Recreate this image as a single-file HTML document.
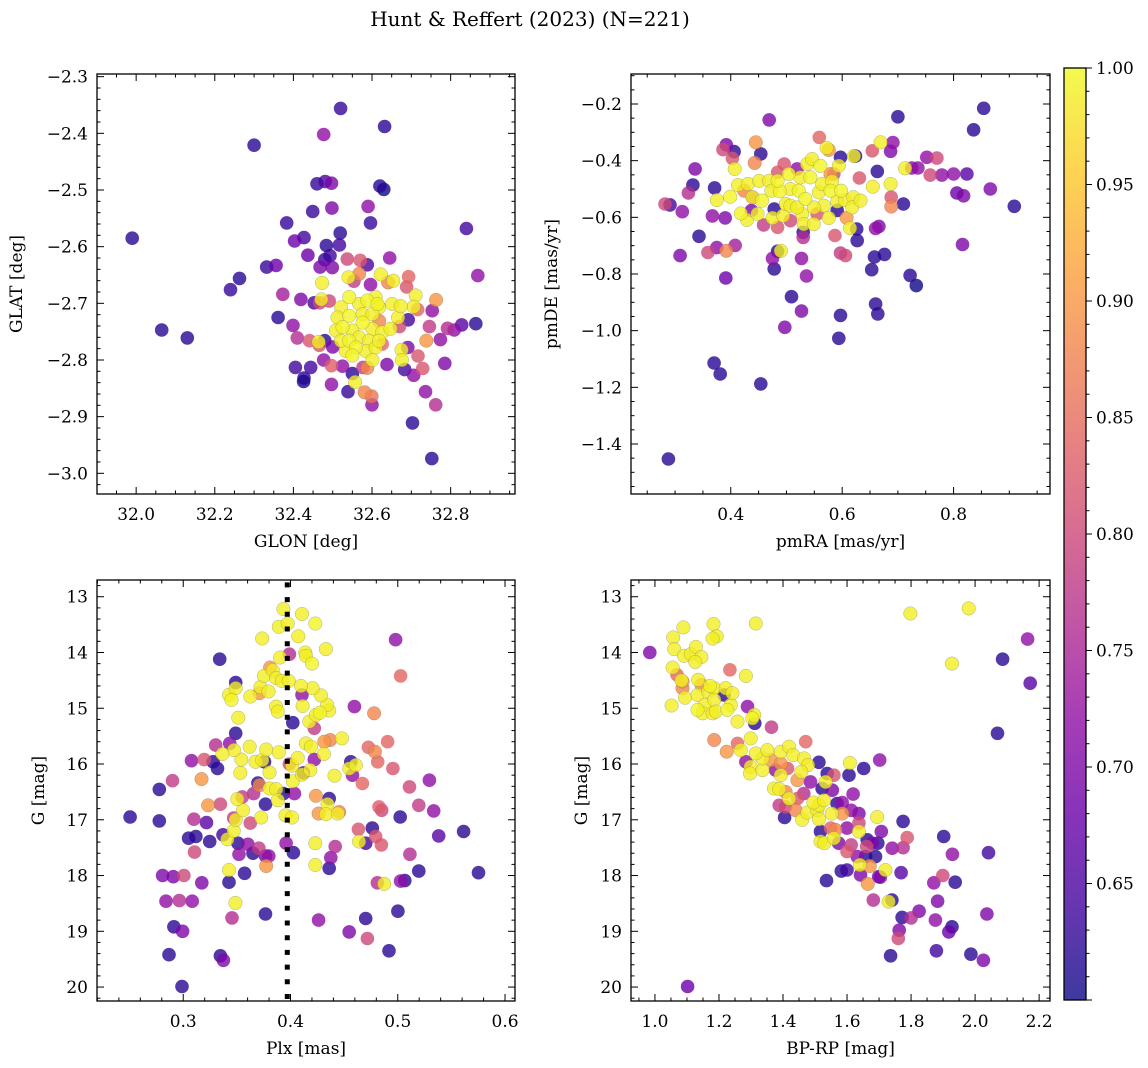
<!DOCTYPE html>
<html><head><meta charset="utf-8">
<style>
html,body{margin:0;padding:0;background:#fff;}
svg{display:block;font-family:"DejaVu Serif","Liberation Serif",serif;}
</style></head>
<body>
<svg id="fig" width="1148" height="1068" viewBox="0 0 1148 1068" xmlns="http://www.w3.org/2000/svg">
<defs>
<linearGradient id="plasma" x1="0" y1="1" x2="0" y2="0">
<stop offset="0" stop-color="#0d0887"/><stop offset="0.1" stop-color="#41049d"/><stop offset="0.2" stop-color="#6a00a8"/><stop offset="0.3" stop-color="#8f0da4"/><stop offset="0.4" stop-color="#b12a90"/><stop offset="0.5" stop-color="#cc4778"/><stop offset="0.6" stop-color="#e16462"/><stop offset="0.7" stop-color="#f2844b"/><stop offset="0.8" stop-color="#fca636"/><stop offset="0.9" stop-color="#fcce25"/><stop offset="1" stop-color="#f0f921"/>
</linearGradient>
</defs>
<text x="530" y="26" font-size="20" text-anchor="middle">Hunt &amp; Reffert (2023) (N=221)</text>
</svg>
<script>
// ---- data: panel 1 (GLON vs GLAT)
const p1Glon=[31.99,32.065,32.13,32.30,32.24,32.263,32.52,32.632,32.477,32.46,32.481,32.497,32.62,32.63,32.449,32.498,32.59,32.596,32.383,32.84,32.403,32.427,32.519,32.484,32.517,32.437,32.493,32.48,32.332,32.356,32.468,32.499,32.537,32.57,32.588,32.645,32.869,32.567,32.54,32.554,32.622,32.654,32.641,32.693,32.688,32.473,32.596,32.373,32.419,32.453,32.471,32.467,32.491,32.711,32.763,32.706,32.716,32.753,32.361,32.399,32.41,32.441,32.464,32.466,32.5,32.48,32.477,32.405,32.444,32.427,32.426,32.497,32.497,32.525,32.539,32.55,32.557,32.581,32.599,32.6,32.588,32.577,32.638,32.683,32.706,32.717,32.729,32.675,32.676,32.691,32.692,32.67,32.666,32.746,32.774,32.785,32.792,32.809,32.828,32.864,32.736,32.762,32.703,32.752,32.738,32.618,32.626,
32.521,32.542,32.567,32.588,32.609,32.618,32.614,32.512,32.542,32.576,32.601,32.525,32.55,32.576,32.601,32.626,32.647,32.542,32.567,32.592,32.618,32.533,32.559,32.584,32.609,32.55,32.601,32.508,32.651,32.673,32.521];
const p1Glat=[-2.585,-2.747,-2.761,-2.421,-2.676,-2.656,-2.356,-2.388,-2.402,-2.489,-2.485,-2.488,-2.493,-2.499,-2.538,-2.532,-2.529,-2.558,-2.558,-2.568,-2.59,-2.584,-2.576,-2.598,-2.597,-2.615,-2.616,-2.623,-2.636,-2.633,-2.636,-2.637,-2.622,-2.624,-2.632,-2.62,-2.651,-2.648,-2.654,-2.661,-2.649,-2.66,-2.663,-2.653,-2.671,-2.664,-2.667,-2.684,-2.693,-2.699,-2.693,-2.699,-2.696,-2.686,-2.694,-2.706,-2.711,-2.713,-2.725,-2.739,-2.761,-2.766,-2.768,-2.774,-2.777,-2.766,-2.8,-2.813,-2.813,-2.832,-2.838,-2.843,-2.81,-2.811,-2.856,-2.824,-2.839,-2.857,-2.864,-2.879,-2.814,-2.813,-2.808,-2.817,-2.827,-2.793,-2.815,-2.782,-2.8,-2.778,-2.729,-2.741,-2.725,-2.741,-2.764,-2.806,-2.744,-2.747,-2.738,-2.736,-2.856,-2.879,-2.911,-2.974,-2.766,-2.731,-2.772,
-2.707,-2.689,-2.701,-2.695,-2.689,-2.707,-2.701,-2.725,-2.722,-2.719,-2.719,-2.742,-2.748,-2.734,-2.745,-2.751,-2.745,-2.766,-2.76,-2.766,-2.766,-2.784,-2.778,-2.784,-2.778,-2.792,-2.8,-2.748,-2.701,-2.705,-2.766];
const p1Prob=[.62,.62,.62,.62,.63,.62,.63,.62,.72,.63,.65,.70,.62,.60,.63,.70,.72,.63,.63,.64,.68,.64,.62,.62,.64,.68,.64,.63,.63,.68,.70,.70,.80,.82,.65,.72,.72,.88,.99,.78,.99,.99,.88,.84,.82,.99,.72,.74,.70,.65,.99,.80,.80,.99,.90,.99,.84,.72,.62,.72,.76,.82,.99,.82,.70,.62,.72,.64,.64,.62,.60,.72,.83,.72,.63,.62,.99,.88,.86,.72,.88,.78,.70,.64,.72,.82,.82,.99,.99,.70,.64,.80,.99,.78,.72,.70,.76,.72,.66,.62,.72,.76,.62,.62,.90,.88,.84,
.99,.995,.99,.995,.99,.99,.995,.99,.995,.99,.99,.995,.99,.995,.99,.99,.99,.995,.99,.99,.995,.99,.995,.99,.99,.995,.99,.99,.99,.99,.99];

// ---- data: panel 2 (pmRA vs pmDE)
const p2Pmra=[0.288,0.370,0.381,0.454,0.497,0.509,0.527,0.594,0.597,0.66,0.664,0.722,0.733,0.653,0.658,0.676,0.816,0.391,0.309,0.359,0.375,0.392,0.408,0.343,0.475,0.478,0.484,0.49,0.527,0.536,0.53,0.53,0.587,0.597,0.606,0.627,0.626,0.66,0.666,0.282,0.291,0.313,0.324,0.332,0.336,0.367,0.39,0.371,0.469,0.392,0.386,0.406,0.403,0.445,0.454,0.443,0.559,0.572,0.576,0.597,0.621,0.624,0.654,0.669,0.691,0.687,0.7,0.663,0.713,0.725,0.736,0.752,0.77,0.758,0.779,0.8,0.824,0.836,0.854,0.806,0.818,0.866,0.909,0.71,0.688,0.688,0.655,0.631,0.608,0.614,0.585,0.594,
0.484,0.496,0.519,0.459,0.484,0.507,0.439,0.478,0.591,0.424,0.555,0.579,0.437,
0.375,0.399,0.407,0.413,0.418,0.429,0.431,0.439,0.448,0.451,0.456,0.469,0.473,0.475,0.488,0.494,0.499,0.504,0.507,0.507,0.522,0.525,0.528,0.531,0.534,0.537,0.546,0.543,0.549,0.558,0.561,0.564,0.567,0.576,0.579,0.582,0.591,0.598,0.605,0.62,0.618,0.633,0.484,0.519,0.549,0.687];
const p2Pmde=[-1.453,-1.114,-1.153,-1.188,-0.988,-0.88,-0.931,-1.027,-0.946,-0.906,-0.941,-0.805,-0.841,-0.785,-0.74,-0.731,-0.696,-0.814,-0.735,-0.724,-0.707,-0.718,-0.699,-0.667,-0.745,-0.782,-0.72,-0.718,-0.745,-0.807,-0.671,-0.653,-0.664,-0.726,-0.735,-0.682,-0.641,-0.639,-0.632,-0.553,-0.556,-0.58,-0.514,-0.486,-0.429,-0.595,-0.602,-0.496,-0.256,-0.344,-0.361,-0.368,-0.392,-0.335,-0.376,-0.408,-0.318,-0.355,-0.362,-0.388,-0.384,-0.384,-0.365,-0.335,-0.336,-0.367,-0.245,-0.438,-0.427,-0.426,-0.426,-0.388,-0.391,-0.451,-0.451,-0.447,-0.447,-0.291,-0.215,-0.514,-0.524,-0.5,-0.561,-0.553,-0.529,-0.562,-0.492,-0.461,-0.602,-0.638,-0.447,-0.418,
-0.441,-0.412,-0.429,-0.627,-0.635,-0.612,-0.529,-0.571,-0.576,-0.506,-0.588,-0.447,-0.576,
-0.539,-0.527,-0.429,-0.486,-0.586,-0.609,-0.482,-0.529,-0.588,-0.471,-0.541,-0.471,-0.506,-0.602,-0.508,-0.594,-0.553,-0.447,-0.5,-0.559,-0.506,-0.459,-0.588,-0.624,-0.535,-0.412,-0.394,-0.459,-0.624,-0.512,-0.418,-0.482,-0.559,-0.602,-0.506,-0.473,-0.544,-0.506,-0.539,-0.529,-0.565,-0.541,-0.471,-0.565,-0.565,-0.482];
const p2Prob=[.62,.62,.62,.62,.70,.62,.70,.62,.62,.62,.62,.62,.60,.62,.62,.62,.70,.68,.70,.80,.72,.88,.74,.62,.72,.62,.62,.99,.72,.72,.76,.62,.82,.78,.80,.62,.62,.72,.70,.80,.64,.72,.76,.62,.70,.72,.70,.62,.70,.70,.80,.62,.82,.90,.62,.88,.84,.99,.90,.62,.99,.62,.82,.99,.72,.70,.62,.62,.99,.72,.72,.72,.80,.80,.72,.72,.66,.62,.62,.68,.70,.70,.62,.62,.82,.88,.99,.82,.90,.99,.80,.99,
.82,.82,.72,.78,.82,.80,.78,.62,.62,.88,.82,.90,.70,
.99,.995,.99,.99,.995,.99,.99,.995,.99,.99,.995,.99,.99,.99,.995,.99,.99,.995,.99,.99,.995,.99,.99,.99,.995,.99,.99,.995,.99,.99,.995,.99,.99,.99,.995,.99,.99,.995,.99,.99,.99,.99,.995,.99,.99,.99];

// ---- data: panel 3 (Plx vs G)
const p3Plx=[0.2505,0.2777,0.2777,0.29,0.2808,0.2907,0.3006,0.2839,0.2963,0.3084,0.2913,0.2994,0.2867,0.2988,0.334,0.3099,0.3217,0.305,0.3118,0.3247,0.3105,0.3173,0.3077,0.3195,0.3278,0.3319,0.317,0.3232,0.3346,0.3303,0.3433,0.3489,0.3489,0.3427,0.3427,0.3572,0.3486,0.3455,0.3346,0.3374,0.3767,0.4262,0.4547,0.4701,0.4717,0.4918,0.5001,0.481,0.4874,0.5026,0.5066,0.5196,0.5753,0.5113,0.5382,0.5614,0.5335,0.5196,0.5023,0.5109,0.5295,0.4955,0.4905,0.5026,0.498,0.4596,0.4779,0.4726,0.4787,0.4813,0.4825,0.485,0.467,0.4578,0.4562,0.4547,0.4609,0.4633,0.4763,0.4794,0.4847,0.4701,0.4639,0.4417,0.4376,0.4361,0.4231,0.4231,0.4027,0.3959,0.3767,0.3798,0.3773,0.3705,0.365,0.3603,0.352,0.351,0.3371,0.3411,0.347,0.3489,0.347,0.3625,0.3727,0.3557,0.3504,0.3551,0.3656,0.3767,0.3696,0.3711,0.3804,0.3866,0.3882,0.3934,0.4036,0.3953,0.4015,0.4237,0.4361,0.4345,0.4262,0.433,0.4454,0.4441,0.4021,0.4107,0.4185,0.412,0.4015,0.399,0.3804,0.3758,0.3674,0.3736,0.3541,0.3532,0.3473,0.3365,0.3619,0.3773,0.3891,0.4067,0.4222,0.4144,0.4191,0.4311,0.4315,0.437,0.4479,0.441,0.4222,0.4021,0.4175,0.4237,0.4274,0.4361,0.4342,0.3513,0.3866,0.3882,0.4113,0.4107,0.4284,0.4206,0.4098,0.3427,0.345,0.3489,0.3625,0.3711,0.372,0.3795,0.3752,0.381,0.3835,0.3866,0.3919,0.3983,0.3903,0.399,0.4138,0.4144,0.42,0.3891,0.3974,0.3934,0.4107,0.4231,0.4073,0.3736,0.433,0.4448];
const p3G=[16.95,16.455,17.02,16.30,18.0,18.02,18.0,18.46,18.45,18.46,18.92,19.0,19.42,19.99,14.12,16.99,17.05,17.33,17.30,17.39,17.58,18.13,15.94,15.92,15.96,16.08,16.27,16.74,16.72,15.66,15.63,15.45,14.54,17.90,18.12,17.96,18.49,18.76,19.44,19.52,18.69,18.8,19.01,18.77,19.13,19.35,18.64,18.13,18.15,18.10,18.09,17.92,17.95,17.62,17.29,17.21,16.84,16.74,16.95,16.41,16.29,16.08,15.60,14.42,13.77,14.97,15.09,15.70,15.78,15.96,16.77,16.83,16.35,16.20,15.96,16.08,16.02,17.17,17.15,17.30,17.45,17.42,17.39,17.48,17.68,17.87,17.42,17.81,17.59,17.42,17.65,17.65,17.83,17.51,17.60,17.44,17.62,17.42,17.27,17.35,17.20,17.00,16.97,17.06,16.96,16.83,16.63,16.59,16.53,16.72,16.34,16.38,16.44,16.45,16.65,16.53,16.53,16.92,16.96,16.57,16.62,16.72,16.89,16.90,16.86,16.89,16.31,16.19,16.11,16.16,16.03,16.0,16.15,15.96,15.96,15.93,15.92,16.16,15.75,15.82,15.69,15.74,15.79,15.89,15.92,15.63,15.69,15.82,15.60,15.57,15.54,16.21,15.36,15.26,15.24,15.12,15.08,15.04,14.94,15.17,14.97,15.06,14.96,14.76,14.77,14.64,14.60,14.76,14.85,14.64,14.79,14.73,14.62,14.70,14.42,14.27,14.32,14.46,14.51,14.51,14.09,14.03,14.0,14.06,14.20,13.54,13.48,13.22,13.31,13.48,13.71,13.75,13.94,13.91];
const p3Prob=[.62,.62,.62,.78,.70,.70,.80,.72,.76,.72,.62,.70,.62,.62,.62,.76,.66,.62,.62,.62,.80,.70,.72,.82,.62,.62,.90,.90,.80,.76,.72,.62,.62,.99,.62,.62,.99,.76,.62,.70,.62,.72,.70,.62,.80,.62,.62,.76,.99,.72,.62,.62,.62,.76,.66,.62,.72,.78,.62,.80,.72,.82,.84,.84,.72,.72,.88,.84,.88,.84,.83,.80,.84,.72,.62,.99,.99,.82,.62,.82,.82,.64,.99,.76,.72,.62,.99,.99,.62,.72,.70,.72,.90,.78,.62,.72,.72,.62,.64,.99,.99,.99,.78,.80,.99,.99,.99,.78,.76,.62,.62,.88,.99,.99,.99,.62,.72,.99,.99,.90,.62,.99,.90,.99,.88,.99,.99,.99,.99,.64,.99,.80,.99,.62,.99,.99,.99,.99,.99,.99,.99,.99,.99,.99,.72,.99,.99,.99,.90,.88,.99,.99,.78,.62,.99,.99,.995,.99,.99,.99,.99,.99,.99,.72,.99,.99,.99,.99,.995,.99,.99,.90,.99,.99,.99,.90,.99,.99,.99,.99,.99,.76,.99,.99,.995,.99,.99,.99,.99,.995,.99,.99,.99];

// ---- data: panel 4 (BP-RP vs G)
const p4Bprp=[0.984,1.102,1.98,1.798,1.928,2.164,2.086,2.172,2.070,1.702,2.042,1.902,1.929,2.037,1.987,2.026,1.879,1.736,1.938,1.899,1.871,1.883,1.876,1.928,1.918,1.825,1.80,1.772,1.763,1.76,1.682,1.730,1.740,1.536,1.582,1.775,1.788,1.775,1.741,1.769,1.72,1.704,1.694,1.707,1.652,1.606,1.619,1.609,1.512,1.559,1.538,1.554,1.585,1.471,1.364,1.312,1.289,1.31,1.185,1.224,1.234,1.216,1.284,1.315,1.183,1.193,1.180,1.089,1.057,1.06,1.091,1.112,1.128,1.145,1.126,1.055,1.052,1.069,1.086,1.086,1.083,1.094,1.135,1.145,
1.133,1.166,1.172,1.185,1.156,1.185,1.133,1.149,1.18,1.19,1.226,1.237,1.221,1.242,1.258,1.304,1.299,
1.258,1.268,1.284,1.299,1.297,1.336,1.336,1.315,1.351,1.362,1.393,1.419,1.432,1.393,1.377,1.393,1.414,1.466,1.478,1.457,1.445,1.486,1.465,1.533,1.522,1.372,1.388,1.408,1.419,1.445,1.388,1.408,1.44,1.46,1.476,1.507,1.512,1.495,1.528,1.552,1.585,1.613,1.637,1.637,1.512,1.405,1.569,1.517,1.549,1.564,1.60,1.637,1.517,1.529,1.559,1.574,1.613,1.663,1.679,1.696,1.661,1.60,1.632,1.658,1.689,1.64,1.671,1.642,1.665,1.699,1.60];
const p4G=[14.00,19.99,13.21,13.30,14.20,13.76,14.12,14.55,15.45,15.93,17.59,17.30,17.62,18.69,19.41,19.52,19.35,19.44,18.12,18.0,18.13,18.46,18.80,18.92,19.01,18.64,18.76,18.75,18.98,19.13,18.44,18.47,18.44,18.09,17.92,17.03,17.32,17.50,17.51,17.95,17.90,18.03,16.95,17.21,16.08,16.20,16.54,15.98,15.97,16.20,16.17,16.47,16.69,15.60,15.34,15.27,14.97,15.12,15.57,15.78,14.31,14.76,14.42,13.48,13.49,13.71,13.75,13.55,13.73,13.94,14.06,14.03,13.90,14.08,14.17,14.27,14.95,14.40,14.52,14.64,14.50,14.81,14.49,14.58,
14.76,14.70,14.60,14.64,14.94,14.85,15.03,15.09,15.09,15.06,15.03,14.94,14.64,14.73,15.24,15.18,15.54,
15.63,15.75,15.96,16.05,16.17,16.11,15.90,15.81,15.75,15.93,15.78,15.69,15.84,15.99,16.11,16.20,16.08,15.90,16.02,16.14,16.29,16.32,16.53,16.32,16.44,16.44,16.45,16.50,16.62,16.62,16.74,16.77,16.83,17.0,16.87,16.83,16.74,16.69,16.65,16.89,16.89,16.83,16.89,17.06,16.99,16.96,16.71,17.21,17.15,17.18,17.15,17.21,17.39,17.42,17.33,17.42,17.45,17.36,17.42,17.42,17.48,17.57,17.66,17.66,17.66,17.81,17.83,17.99,18.15,18.02,17.90];
const p4Prob=[.70,.68,.99,.99,.99,.72,.62,.66,.62,.72,.64,.62,.72,.70,.62,.70,.64,.62,.62,.80,.72,.70,.72,.62,.68,.70,.76,.62,.70,.80,.76,.99,.62,.62,.62,.62,.82,.76,.72,.66,.99,.70,.99,.70,.62,.62,.72,.99,.62,.82,.62,.70,.72,.84,.78,.62,.72,.99,.88,.90,.84,.62,.99,.99,.99,.99,.99,.99,.99,.99,.99,.99,.99,.99,.99,.99,.99,.84,.90,.88,.99,.99,.99,.88,
.99,.99,.995,.99,.99,.99,.995,.99,.99,.99,.995,.99,.99,.99,.99,.995,.99,
.84,.99,.72,.99,.99,.99,.99,.99,.99,.90,.99,.99,.99,.90,.72,.99,.82,.99,.99,.99,.90,.72,.76,.99,.62,.99,.99,.88,.99,.82,.78,.80,.88,.99,.99,.99,.99,.99,.99,.99,.90,.72,.70,.80,.99,.62,.62,.62,.84,.88,.72,.99,.99,.99,.99,.70,.78,.62,.70,.62,.80,.82,.72,.62,.62,.99,.90,.70,.90,.70,.64];

// ---- tick labels
const p1XTicks=[32.0,32.2,32.4,32.6,32.8];
const p1YTicks=[-2.3,-2.4,-2.5,-2.6,-2.7,-2.8,-2.9,-3.0];
const p2XTicks=[0.4,0.6,0.8];
const p2YTicks=[-0.2,-0.4,-0.6,-0.8,-1.0,-1.2,-1.4];
const p3XTicks=[0.3,0.4,0.5,0.6];
const gTicks=[13,14,15,16,17,18,19,20];
const p4XTicks=[1.0,1.2,1.4,1.6,1.8,2.0,2.2];
const cbTicks=[0.65,0.70,0.75,0.80,0.85,0.90,0.95,1.00];
const plxRef=[0.397];

const NS='http://www.w3.org/2000/svg';
const svg=document.getElementById('fig');
function el(tag,attrs,parent){const e=document.createElementNS(NS,tag);for(const k in attrs)e.setAttribute(k,attrs[k]);(parent||svg).appendChild(e);return e;}
const stops=[[0,[13,8,135]],[.1,[65,4,157]],[.2,[106,0,168]],[.3,[143,13,164]],[.4,[177,42,144]],[.5,[204,71,120]],[.6,[225,100,98]],[.7,[242,132,75]],[.8,[252,166,54]],[.9,[252,206,37]],[1,[240,249,33]]];
const VMIN=0.6,VMAX=1.0;
function plasma(p){let t=Math.max(0,Math.min(1,(p-VMIN)/(VMAX-VMIN)));for(let i=1;i<stops.length;i++){if(t<=stops[i][0]){const a=stops[i-1],b=stops[i];const f=(t-a[0])/(b[0]-a[0]);const c=a[1].map((v,j)=>Math.round(v+(b[1][j]-v)*f));return 'rgb('+c.join(',')+')';}}return 'rgb(240,249,33)';}
function fmt(v,d){return (v<0?'\u2212':'')+Math.abs(v).toFixed(d);}

function panel(name,box,xr,yr,xs,ys,ps,xt,xd,xminor,yt,yd,yminor,xlabel,ylabel,ylx){
  const [x0,y0,x1,y1]=box;
  const sx=v=>x0+(v-xr[0])/(xr[1]-xr[0])*(x1-x0);
  const sy=v=>y0+(v-yr[0])/(yr[1]-yr[0])*(y1-y0);
  const g=el('g',{});
  
  
  const clip=el('clipPath',{id:'clip-'+name},g);
  el('rect',{x:x0,y:y0,width:x1-x0,height:y1-y0},clip);
  const pts=el('g',{'clip-path':'url(#clip-'+name+')'},g);
  
  
  const idx=ps.map((p,i)=>i).sort((a,b)=>ps[a]-ps[b]);
  idx.forEach(i=>{
    const c=el('circle',{cx:sx(xs[i]).toFixed(1),cy:sy(ys[i]).toFixed(1),r:6.8,fill:plasma(ps[i]),'fill-opacity':0.8,stroke:'#666','stroke-width':0.4,'stroke-opacity':ps[i]>0.85?0.6:0},pts);
    
    
  });
  if(name==='panel-plx-g'){
    plxRef.forEach(v=>{const l=el('line',{x1:sx(v),x2:sx(v),y1:y1-2,y2:y0,stroke:'#000','stroke-width':5,'stroke-dasharray':'5 9.7'},g);
    
    });
  }
  const tk=el('g',{stroke:'#000','stroke-width':1},g);
  const lo=Math.min(xr[0],xr[1]),hi=Math.max(xr[0],xr[1]);
  for(let k=Math.ceil(lo/xminor-1e-6);k<=Math.floor(hi/xminor+1e-6);k++){const v=k*xminor;const X=sx(v);const major=xt.some(t=>Math.abs(t-v)<1e-6);const L=major?7:3.5;
    el('line',{x1:X,x2:X,y1:y1,y2:y1-L},tk);el('line',{x1:X,x2:X,y1:y0,y2:y0+L},tk);}
  const ylo=Math.min(yr[0],yr[1]),yhi=Math.max(yr[0],yr[1]);
  for(let k=Math.ceil(ylo/yminor-1e-6);k<=Math.floor(yhi/yminor+1e-6);k++){const v=k*yminor;const Y=sy(v);const major=yt.some(t=>Math.abs(t-v)<1e-6);const L=major?7:3.5;
    el('line',{x1:x0,x2:x0+L,y1:Y,y2:Y},tk);el('line',{x1:x1,x2:x1-L,y1:Y,y2:Y},tk);}
  const fr=el('rect',{x:x0,y:y0,width:x1-x0,height:y1-y0,fill:'none',stroke:'#000','stroke-width':1.3},g);
  
  
  xt.forEach(v=>{const t=el('text',{x:sx(v),y:y1+26,'font-size':17,'text-anchor':'middle'},g);t.textContent=fmt(v,xd);
    
    });
  yt.forEach(v=>{const t=el('text',{x:x0-9,y:sy(v)+6,'font-size':17,'text-anchor':'end'},g);t.textContent=fmt(v,yd);
    
    });
  const xl=el('text',{x:(x0+x1)/2,y:y1+53,'font-size':17,'text-anchor':'middle'},g);xl.textContent=xlabel;
  
  
  const yc=(y0+y1)/2;
  const yl=el('text',{x:ylx,y:yc,'font-size':17,'text-anchor':'middle',transform:'rotate(-90 '+ylx+' '+yc+')'},g);yl.textContent=ylabel;
  
  
}
panel('panel-glon-glat',[97,74,515,494],[31.9004,32.9637],[-2.2953,-3.0365],p1Glon,p1Glat,p1Prob,p1XTicks,1,0.05,p1YTicks,1,0.02,'GLON [deg]','GLAT [deg]',22);
panel('panel-pm',[631,74,1050,494],[0.2209,0.9731],[-0.0941,-1.5765],p2Pmra,p2Pmde,p2Prob,p2XTicks,1,0.05,p2YTicks,1,0.05,'pmRA [mas/yr]','pmDE [mas/yr]',557);
panel('panel-plx-g',[97,580,515,1001],[0.2196,0.6093],[12.70,20.25],p3Plx,p3G,p3Prob,p3XTicks,1,0.02,gTicks,0,0.2,'Plx [mas]','G [mag]',44);
panel('panel-cmd',[631,580,1050,1001],[0.9252,2.234],[12.70,20.25],p4Bprp,p4G,p4Prob,p4XTicks,1,0.05,gTicks,0,0.2,'BP-RP [mag]','G [mag]',587);

// colorbar
const cb=el('g',{});


const cbx0=1064,cbx1=1086,cby0=68,cby1=1000;
const cy=v=>cby1-(v-VMIN)/(VMAX-VMIN)*(cby1-cby0);
el('rect',{x:cbx0,y:cby0,width:cbx1-cbx0,height:cby1-cby0,fill:'url(#plasma)','fill-opacity':0.8},cb);
el('rect',{x:cbx0,y:cby0,width:cbx1-cbx0,height:cby1-cby0,fill:'none',stroke:'#000','stroke-width':1.3},cb);
for(let k=60;k<=100;k++){const v=k/100;const Y=cy(v);const major=k%5===0;el('line',{x1:cbx1,x2:cbx1+(major?6:3.5),y1:Y,y2:Y,stroke:'#000','stroke-width':1},cb);}
cbTicks.forEach(v=>{const t=el('text',{x:cbx1+10,y:cy(v)+6,'font-size':17},cb);t.textContent=v.toFixed(2);
  
  });
</script>
</body></html>
